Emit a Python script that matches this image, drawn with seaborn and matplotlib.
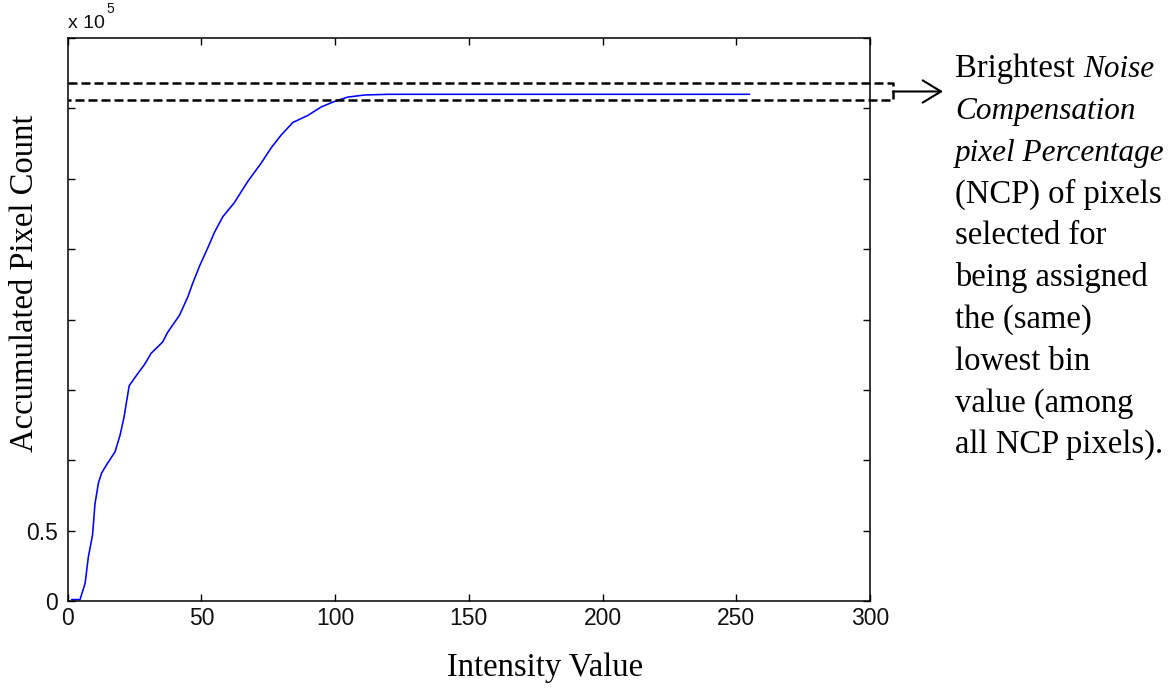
import matplotlib
matplotlib.use("Agg")
import matplotlib.pyplot as plt
import pandas as pd
import seaborn as sns

# ---------------- data (accumulated pixel count, units of 1e5) ----------------
intensity = [1.5, 4.6, 6.5, 7.7, 9.3, 10.2, 11.5, 12.7, 14.6, 17.7, 19.6, 21.0,
             23.0, 25.6, 28.7, 31.2, 35.5, 37.4, 41.8, 44.9, 46.8, 49.3, 52.4,
             54.9, 58.0, 62.3, 67.3, 72.3, 76.1, 79.8, 84.2, 89.8, 94.8, 99.8,
             104.7, 111.0, 120.0, 255.0]
accumulated_e5 = [0.01, 0.01, 0.125, 0.31, 0.47, 0.69, 0.84, 0.91, 0.97, 1.06,
                  1.18, 1.30, 1.53, 1.60, 1.68, 1.76, 1.84, 1.91, 2.03, 2.16,
                  2.26, 2.38, 2.51, 2.62, 2.73, 2.83, 2.98, 3.11, 3.22, 3.31,
                  3.40, 3.45, 3.51, 3.55, 3.58, 3.595, 3.60, 3.60]
x_ticks = [0, 50, 100, 150, 200, 250, 300]
y_ticks = [0, 0.5, 1, 1.5, 2, 2.5, 3, 3.5, 4]
y_tick_labels = ["0", "0.5", "", "", "", "", "", "", ""]
ncp_band = [3.557, 3.683]   # lower / upper bound of the NCP band (1e5)
note_lines = [
    [("Brightest", "normal"), ("Noise", "italic")],
    [("Compensation", "italic")],
    [("pixel Percentage", "italic")],
    [("(NCP) of pixels", "normal")],
    [("selected for", "normal")],
    [("being assigned", "normal")],
    [("the (same)", "normal")],
    [("lowest bin", "normal")],
    [("value (among", "normal")],
    [("all NCP pixels).", "normal")],
]

# ---------------- style ----------------
sns.set_style("white")
plt.rcParams['font.family'] = ['Liberation Sans', 'DejaVu Sans']
plt.rcParams['text.color'] = 'black'
plt.rcParams['axes.labelcolor'] = 'black'
SERIF = ['Liberation Serif', 'DejaVu Serif']

W, H = 1173, 693
fig = plt.figure(figsize=(W / 100, H / 100), dpi=100)
L, R, T, B = 67.7, 870.0, 38.0, 601.0
ax = fig.add_axes([L / W, 1 - B / H, (R - L) / W, (B - T) / H])

df = pd.DataFrame({"Intensity Value": intensity,
                   "Accumulated Pixel Count": accumulated_e5})
sns.lineplot(data=df, x="Intensity Value", y="Accumulated Pixel Count", ax=ax,
             color="#0000ff", lw=1.15, estimator=None, sort=False)

ax.set_xlim(0, 300)
ax.set_ylim(0, 4)
ax.set_xticks(x_ticks)
ax.set_xticklabels([str(v) for v in x_ticks])
ax.set_yticks(y_ticks)
ax.set_yticklabels(y_tick_labels)
ax.tick_params(direction="in", length=5, width=1, top=True, right=True,
               bottom=True, left=True,
               labelsize=16.5, color="black", labelcolor="#111111")
ax.tick_params(axis="x", pad=4)
ax.tick_params(axis="y", pad=7)
for s in ax.spines.values():
    s.set_visible(True)
    s.set_color("black")
    s.set_linewidth(1.1)

ax.set_xlabel("Intensity Value", family=SERIF, fontsize=23.5, color="black")
ax.xaxis.set_label_coords((545 - L) / (R - L), (B - 668) / (B - T))
ax.xaxis.label.set_va("center")
ax.set_ylabel("Accumulated Pixel Count", family=SERIF, fontsize=23.5, color="black")
ax.yaxis.set_label_coords((25 - L) / (R - L), (B - 283) / (B - T))
ax.yaxis.label.set_va("center")

# exponent label
fig.text(68 / W, 1 - 28 / H, "x 10", fontsize=14, va="baseline", color="#111111")
fig.text(106 / W, 1 - 13 / H, "5", fontsize=10, va="baseline", color="#111111")

# NCP band bracket and arrow
ytr = ax.get_yaxis_transform()
x_br = (893 - L) / (R - L)
ax.plot([0, x_br, x_br, 0], [ncp_band[1], ncp_band[1], ncp_band[0], ncp_band[0]],
        transform=ytr, color="black", lw=1.8, ls="--", dashes=(3.6, 1.6),
        clip_on=False)
mid = sum(ncp_band) / 2
ax.annotate("", xy=((943 - L) / (R - L), mid), xycoords=ytr,
            xytext=(x_br, mid), textcoords=ytr,
            arrowprops=dict(arrowstyle="->, head_length=0.33, head_width=0.2",
                            mutation_scale=40, lw=1.5, color="black",
                            shrinkA=0, shrinkB=0),
            annotation_clip=False)

# note text
for i, segs in enumerate(note_lines):
    yb = 1 - (77 + i * 41.8) / H
    prev = None
    for txt, style in segs:
        size = 22.5 if style == "italic" else 23.5
        if prev is None:
            prev = fig.text(955 / W, yb, txt, family=SERIF, fontsize=size,
                            fontstyle=style, va="baseline", ha="left",
                            color="black")
        else:
            prev = fig.add_artist(plt.Annotation(
                txt, xy=(1, 0), xycoords=prev, xytext=(8, 0),
                textcoords="offset pixels", family=SERIF, fontsize=size,
                fontstyle=style, va="bottom", ha="left", color="black"))

fig.savefig("out.png", dpi=100)
